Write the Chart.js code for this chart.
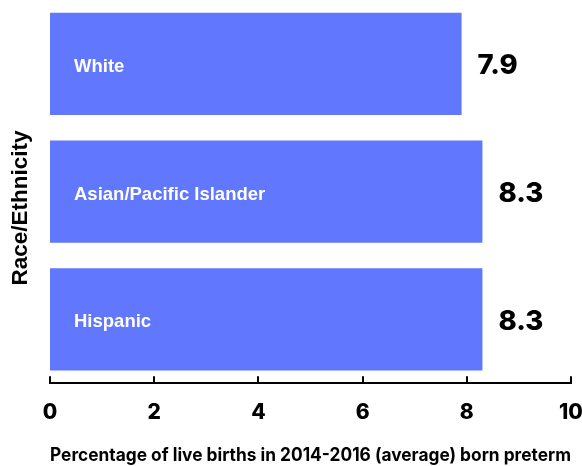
<!DOCTYPE html>
<html>
<head>
<meta charset="utf-8">
<script src="https://cdn.jsdelivr.net/npm/chart.js@4"></script>
<style>
  html, body { margin: 0; padding: 0; background: #fff; }
  #wrap { width: 582px; height: 466px; }
</style>
</head>
<body>
<div id="wrap"><canvas id="chart"></canvas></div>
<script>
// preterm birth share by race/ethnicity
const groups = ['White', 'Asian/Pacific Islander', 'Hispanic'];
const pretermPct = [7.9, 8.3, 8.3];
const xTicks = [0, 2, 4, 6, 8, 10];
const xTitle = 'Percentage of live births in 2014-2016 (average) born preterm';
const yTitle = 'Race/Ethnicity';

const BAR_COLOR = '#6177fe';

// category names inside the bars, values just past the bar ends
const barLabels = {
  id: 'barLabels',
  afterDatasetsDraw(chart) {
    const { ctx } = chart;
    const meta = chart.getDatasetMeta(0);
    ctx.save();
    ctx.textBaseline = 'middle';
    meta.data.forEach((bar, i) => {
      ctx.fillStyle = '#fff';
      ctx.textAlign = 'left';
      ctx.font = 'bold 18.5px "Liberation Sans", Arial, sans-serif';
      ctx.fillText(groups[i], bar.base + 24, bar.y + 3);

      ctx.fillStyle = '#000';
      ctx.font = '800 27.5px Inter, sans-serif';
      ctx.fillText(pretermPct[i].toFixed(1), bar.x + 16, bar.y + 2);
    });
    ctx.restore();
  }
};

// upward tick marks on the x axis + rotated y title
const axisExtras = {
  id: 'axisExtras',
  afterDraw(chart) {
    const { ctx, chartArea } = chart;
    const x = chart.scales.x;
    ctx.save();
    ctx.strokeStyle = '#000';
    ctx.lineWidth = 2;
    x.ticks.forEach(t => {
      const px = Math.round(x.getPixelForValue(t.value));
      ctx.beginPath();
      ctx.moveTo(px, chartArea.bottom);
      ctx.lineTo(px, chartArea.bottom - 7);
      ctx.stroke();
    });

    ctx.translate(21, 208);
    ctx.rotate(-Math.PI / 2);
    ctx.fillStyle = '#000';
    ctx.textAlign = 'center';
    ctx.textBaseline = 'middle';
    ctx.font = 'bold 22.5px "Liberation Sans", Arial, sans-serif';
    ctx.fillText(yTitle, 0, 0);
    ctx.restore();
  }
};

new Chart(document.getElementById('chart'), {
  type: 'bar',
  data: {
    labels: groups,
    datasets: [{
      data: pretermPct,
      backgroundColor: BAR_COLOR,
      borderWidth: 0,
      categoryPercentage: 0.8,
      barPercentage: 1.0
    }]
  },
  options: {
    indexAxis: 'y',
    responsive: true,
    maintainAspectRatio: false,
    animation: false,
    layout: { padding: { left: 50, right: 11, top: 0, bottom: 0 } },
    plugins: {
      legend: { display: false },
      tooltip: { enabled: false }
    },
    scales: {
      y: {
        display: false
      },
      x: {
        min: 0,
        max: 10,
        afterBuildTicks(scale) {
          scale.ticks = xTicks.map(v => ({ value: v }));
        },
        // let the last tick label hang over the right edge
        afterFit(scale) {
          scale.paddingLeft = 0;
          scale.paddingRight = 0;
        },
        grid: { display: false, drawTicks: false },
        border: { display: true, color: '#000', width: 2 },
        ticks: {
          padding: 19,
          color: '#000',
          font: { family: 'Inter', size: 21, weight: '800', lineHeight: 1 }
        },
        title: {
          display: true,
          text: xTitle,
          color: '#000',
          padding: { top: 2, bottom: 0 },
          font: { family: 'Inter', size: 18.2, weight: '700' }
        }
      }
    }
  },
  plugins: [barLabels, axisExtras]
});
</script>
</body>
</html>
